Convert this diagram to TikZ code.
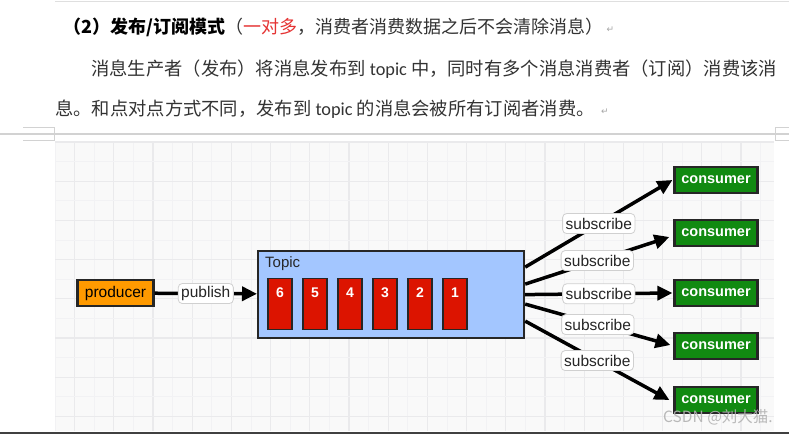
\documentclass[tikz,border=0pt]{standalone}
\usepackage{fontspec}
\setmainfont{Liberation Sans}
\newfontfamily\cjk{Noto Sans CJK SC}
\newfontfamily\topicfont{Carlito}
\newfontfamily\symfont{DejaVu Sans}
\usetikzlibrary{arrows.meta,calc}
\definecolor{gridbg}{HTML}{F9F9F9}
\definecolor{gridminor}{HTML}{F2F2F4}
\definecolor{gridmajor}{HTML}{EAEAEC}
\definecolor{orangefill}{HTML}{FF9A00}
\definecolor{topicblue}{HTML}{A3C6FF}
\definecolor{msgred}{HTML}{DC1400}
\definecolor{consgreen}{HTML}{118A11}
\definecolor{bodytext}{HTML}{333333}
\definecolor{ruleg}{HTML}{D2D2D2}
\definecolor{titlered}{HTML}{E53333}
\definecolor{lblborder}{HTML}{D0D0D0}
\begin{document}
\begin{tikzpicture}[x=1pt,y=-1pt,
  boxbase/.style={draw=black!85, line width=2.2pt, inner sep=0pt},
  prod/.style={boxbase, fill=orangefill, minimum width=76pt, minimum height=26pt, font=\fontsize{15.5}{15.5}\selectfont},
  topicbox/.style={boxbase, fill=topicblue, minimum width=266pt, minimum height=87pt, anchor=north west},
  msgbox/.style={draw=black!85, line width=1.8pt, fill=msgred, minimum width=24pt, minimum height=51pt, inner sep=0pt},
  numtxt/.style={text=white, font=\bfseries\fontsize{14}{14}\selectfont, inner sep=0pt},
  cons/.style={boxbase, fill=consgreen, minimum width=83pt, minimum height=26pt, text=white, font=\bfseries\fontsize{14.5}{14.5}\selectfont},
  lbl/.style={draw=lblborder, line width=0.8pt, fill=white, rounded corners=4pt, minimum height=20pt, inner xsep=3pt, inner ysep=0pt, text=black!85, font=\fontsize{15.5}{15.5}\selectfont},
  arr/.style={draw=black, line width=3.5pt, -{Triangle[length=15pt,width=14pt]}},
  para/.style={anchor=base west, inner sep=0pt, text=bodytext, font=\cjk\fontsize{18.3}{18.3}\selectfont},
  retmark/.style={inner sep=0pt, anchor=base west, text=gray!70, font=\symfont\fontsize{9}{9}\selectfont}
]
\useasboundingbox (0,0) rectangle (789,434);
\fill[white] (0,0) rectangle (789,434);

% document text
\draw[ruleg!70, line width=0.8pt] (55,1) -- (789,1);
\node[para, text=black, font=\cjk\fontsize{18}{18}\selectfont] (title) at (63,33) {{\bfseries （2）发布/订阅模式}{\color{bodytext}（}{\color{titlered}一对多}{\color{bodytext}，消费者消费数据之后不会清除消息）}};
\node[retmark] (ret1) at ($(title.base east)+(3,-1)$) {↵};
\node[para] (line2) at (91,75) {消息生产者（发布）将消息发布到 {\topicfont topic} 中，同时有多个消息消费者（订阅）消费该消};
\node[para] (line3) at (55,115) {息。和点对点方式不同，发布到 {\topicfont topic} 的消息会被所有订阅者消费。};
\node[retmark] (ret3) at ($(line3.base east)+(6,-1)$) {↵};

% page rule and corner marks
\draw[ruleg, line width=1.2pt] (0,134) -- (789,134);
\draw[ruleg, line width=1pt] (23,127) -- (54,127) -- (54,140) -- (23,140);
\draw[ruleg, line width=1pt] (789,127) -- (775,127) -- (775,140) -- (789,140);

% grid background
\fill[gridbg] (55,142) rectangle (774,431);
\foreach \k [evaluate=\k as \xx using 55+19.6*\k] in {0,...,36} {
  \ifodd\k
    \draw[gridmajor, line width=1.2pt] (\xx,142) -- (\xx,431);
  \else
    \draw[gridminor, line width=0.8pt] (\xx,142) -- (\xx,431);
  \fi
}
\foreach \k [evaluate=\k as \yy using 142+19.6*\k] in {0,...,14} {
  \ifodd\k
    \draw[gridminor, line width=0.8pt] (55,\yy) -- (774,\yy);
  \else
    \draw[gridmajor, line width=1.2pt] (55,\yy) -- (774,\yy);
  \fi
}
\fill[black!75] (0,431.5) rectangle (789,434);

% nodes
\node[prod] (producer) at (115.5,293) {producer};
\node[topicbox] (topic) at (257,250) {};
\node[anchor=west, inner sep=0pt, text=black!85, font=\fontsize{15}{15}\selectfont] (topiclabel) at (265,264) {Topic};
\foreach \i in {6,5,4,3,2,1} {
  \pgfmathsetmacro{\mx}{280+35*(6-\i)}
  \node[msgbox] (m\i) at (\mx,304) {};
  \node[numtxt] (n\i) at (\mx,293) {\i};
}
\node[cons] (c1) at (716,180) {consumer};
\node[cons] (c2) at (716,233) {consumer};
\node[cons] (c3) at (716,293) {consumer};
\node[cons] (c4) at (716,346) {consumer};
\node[cons] (c5) at (716,400) {consumer};

% connectors
\draw[arr] (producer) -- node[lbl] (publbl) {publish} (topic);

\coordinate (s1) at ($(topic.east)+(0,-27.5)$);
\coordinate (s2) at ($(topic.east)+(0,-10.5)$);
\coordinate (s3) at ($(topic.east)+(0,0)$);
\coordinate (s4) at ($(topic.east)+(0,9.5)$);
\coordinate (s5) at ($(topic.east)+(0,26.5)$);
\coordinate (e1) at ($(c1.west)+(-1,0)$);
\coordinate (e2) at ($(c2.west)+(-4,4)$);
\coordinate (e3) at ($(c3.west)+(-1,0)$);
\coordinate (e4) at ($(c4.west)+(-3,-1)$);
\coordinate (e5) at ($(c5.west)+(-4,0)$);
\draw[arr] (s1) -- node[lbl] (sub1) {subscribe} (e1);
\draw[arr] (s2) -- node[lbl] (sub2) {subscribe} (e2);
\draw[arr] (s3) -- node[lbl] (sub3) {subscribe} (e3);
\draw[arr] (s4) -- node[lbl] (sub4) {subscribe} (e4);
\draw[arr] (s5) -- node[lbl] (sub5) {subscribe} (e5);

% watermark
\node[anchor=west, inner sep=0pt, text=gray!60, opacity=0.9, font=\cjk\fontsize{15.5}{15.5}\selectfont] (wm) at (663,417) {CSDN @刘大猫.};
\end{tikzpicture}
\end{document}
